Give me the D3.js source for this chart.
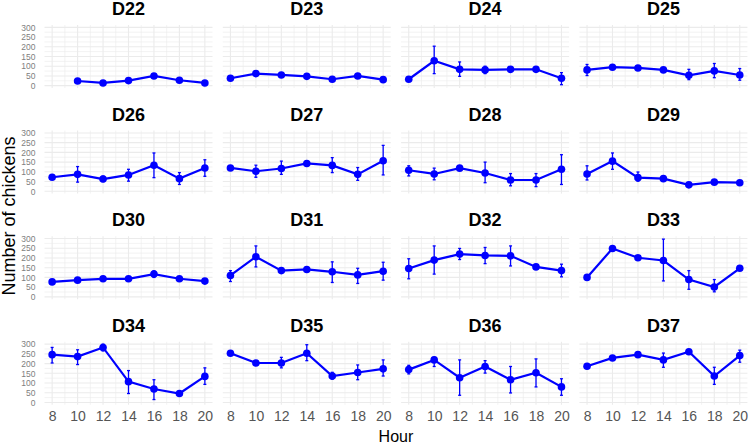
<!DOCTYPE html>
<html>
<head>
<meta charset="utf-8">
<script src="https://cdn.jsdelivr.net/npm/d3@7"></script>
<style>
  body { margin: 0; background: #fff; }
  svg { font-family: 'Liberation Sans', Arial, sans-serif; }
</style>
</head>
<body>
<div id="chart"></div>
<script>
const width = 750
const height = 445

// data
const hours = [8, 10, 12, 14, 16, 18, 20]
const days = ['D22', 'D23', 'D24', 'D25', 'D26', 'D27', 'D28', 'D29',
  'D30', 'D31', 'D32', 'D33', 'D34', 'D35', 'D36', 'D37']
const yTicks = [0, 50, 100, 150, 200, 250, 300]

const meanValues = [
  [null, 24, 14, 26, 50, 28, 14],
  [38, 62, 55, 48, 33, 50, 31],
  [33, 128, 84, 81, 84, 84, 38],
  [81, 95, 91, 81, 53, 76, 55],
  [72, 87, 63, 84, 134, 65, 120],
  [120, 103, 117, 143, 133, 87, 157],
  [108, 89, 119, 94, 58, 58, 113],
  [89, 155, 70, 65, 33, 47, 44],
  [77, 86, 93, 93, 117, 93, 81],
  [110, 206, 135, 141, 129, 113, 132],
  [146, 189, 220, 213, 211, 154, 135],
  [100, 249, 201, 187, 89, 51, 147],
  [246, 236, 283, 107, 69, 46, 134],
  [253, 203, 203, 253, 136, 154, 173],
  [169, 219, 127, 185, 117, 153, 80],
  [186, 229, 246, 219, 261, 136, 241]
]
const lowerValues = [
  [null, 24, 14, 26, 50, 28, 14],
  [38, 62, 55, 48, 33, 50, 22],
  [33, 62, 48, 62, 84, 84, 5],
  [52, 95, 91, 81, 31, 41, 28],
  [72, 47, 50, 52, 70, 35, 77],
  [120, 72, 87, 143, 96, 56, 84],
  [79, 59, 119, 44, 28, 24, 35],
  [58, 113, 52, 65, 33, 47, 44],
  [77, 86, 93, 93, 100, 93, 81],
  [79, 154, 135, 141, 74, 69, 86],
  [93, 117, 192, 171, 159, 154, 103],
  [100, 249, 190, 82, 39, 26, 147],
  [203, 195, 265, 46, 15, 46, 93],
  [253, 203, 178, 215, 120, 117, 136],
  [147, 185, 37, 151, 49, 80, 37],
  [186, 229, 246, 181, 261, 93, 207]
]
const upperValues = [
  [null, 24, 14, 26, 50, 28, 14],
  [38, 62, 55, 48, 33, 50, 42],
  [33, 203, 122, 100, 84, 84, 67],
  [109, 95, 91, 81, 84, 114, 88],
  [72, 127, 78, 113, 197, 96, 162],
  [120, 134, 155, 143, 173, 122, 236],
  [131, 119, 119, 150, 91, 91, 188],
  [131, 197, 99, 65, 33, 47, 44],
  [77, 86, 93, 93, 134, 93, 81],
  [135, 262, 135, 141, 180, 147, 178],
  [196, 262, 249, 254, 262, 154, 168],
  [100, 249, 212, 297, 135, 89, 147],
  [283, 271, 300, 164, 117, 46, 178],
  [253, 203, 232, 297, 155, 193, 219],
  [191, 232, 219, 215, 185, 224, 122],
  [186, 229, 246, 254, 261, 181, 269]
]

const blue = '#0000ff'
const gridColor = '#ebebeb'

// panel layout
const panel = { left: 44.5, top: 25, width: 168, height: 63, colStep: 178.3, rowStep: 105.6 }

const svg = d3.select('#chart').append('svg')
  .attr('width', width)
  .attr('height', height)

const xScale = d3.scaleLinear().domain([7.4, 20.6]).range([0, panel.width])
const yScale = d3.scaleLinear().domain([-12, 312]).range([panel.height, 0])

const line = d3.line()
  .defined((d) => d.mean != null)
  .x((d) => xScale(d.hour))
  .y((d) => yScale(d.mean))

days.forEach((day, i) => {
  const col = i % 4
  const row = Math.floor(i / 4)
  const g = svg.append('g')
    .attr('transform', `translate(${panel.left + col * panel.colStep},${panel.top + row * panel.rowStep})`)

  const pts = hours.map((h, j) => ({
    hour: h,
    mean: meanValues[i][j],
    lo: lowerValues[i][j],
    hi: upperValues[i][j]
  }))

  // grid: minor then major
  const xMinor = d3.range(9, 20, 2)
  const yMinor = d3.range(25, 300, 50)
  g.selectAll('.xminor').data(xMinor).join('line')
    .attr('x1', (d) => xScale(d)).attr('x2', (d) => xScale(d))
    .attr('y1', 0).attr('y2', panel.height)
    .attr('stroke', gridColor).attr('stroke-width', 0.6)
  g.selectAll('.yminor').data(yMinor).join('line')
    .attr('x1', 0).attr('x2', panel.width)
    .attr('y1', (d) => yScale(d)).attr('y2', (d) => yScale(d))
    .attr('stroke', gridColor).attr('stroke-width', 0.6)
  g.append('g').selectAll('line').data(hours).join('line')
    .attr('x1', (d) => xScale(d)).attr('x2', (d) => xScale(d))
    .attr('y1', 0).attr('y2', panel.height)
    .attr('stroke', gridColor).attr('stroke-width', 1.1)
  g.append('g').selectAll('line').data(yTicks).join('line')
    .attr('x1', 0).attr('x2', panel.width)
    .attr('y1', (d) => yScale(d)).attr('y2', (d) => yScale(d))
    .attr('stroke', gridColor).attr('stroke-width', 1.1)

  // title
  g.append('text')
    .attr('x', panel.width / 2)
    .attr('y', -10)
    .attr('text-anchor', 'middle')
    .attr('font-size', 18)
    .attr('font-weight', 'bold')
    .attr('fill', '#000')
    .text(day)

  // y axis labels on first column
  if (col === 0) {
    const yAxis = d3.axisLeft(yScale).tickValues(yTicks).tickSize(0).tickPadding(9)
    const ya = g.append('g').call(yAxis)
    ya.select('.domain').remove()
    ya.selectAll('text').attr('font-size', 8.5).attr('fill', '#808080')
      .attr('font-family', "'Liberation Sans', Arial, sans-serif")
  }
  // x axis labels on last row
  if (row === 3) {
    const xAxis = d3.axisBottom(xScale).tickValues(hours).tickSize(0).tickPadding(6)
    const xa = g.append('g').attr('transform', `translate(0,${panel.height})`).call(xAxis)
    xa.select('.domain').remove()
    xa.selectAll('text').attr('font-size', 14).attr('fill', '#555')
      .attr('font-family', "'Liberation Sans', Arial, sans-serif")
  }

  // error bars
  const eb = pts.filter((d) => d.mean != null && d.hi - d.lo > 0)
  g.selectAll('.eb').data(eb).join('line')
    .attr('x1', (d) => xScale(d.hour)).attr('x2', (d) => xScale(d.hour))
    .attr('y1', (d) => yScale(d.lo)).attr('y2', (d) => yScale(d.hi))
    .attr('stroke', blue).attr('stroke-width', 1.3)
  g.selectAll('.capHi').data(eb).join('line')
    .attr('x1', (d) => xScale(d.hour) - 1.5).attr('x2', (d) => xScale(d.hour) + 1.5)
    .attr('y1', (d) => yScale(d.hi)).attr('y2', (d) => yScale(d.hi))
    .attr('stroke', blue).attr('stroke-width', 1.3)
  g.selectAll('.capLo').data(eb).join('line')
    .attr('x1', (d) => xScale(d.hour) - 1.5).attr('x2', (d) => xScale(d.hour) + 1.5)
    .attr('y1', (d) => yScale(d.lo)).attr('y2', (d) => yScale(d.lo))
    .attr('stroke', blue).attr('stroke-width', 1.3)

  // line and points
  g.append('path').datum(pts)
    .attr('d', line)
    .attr('fill', 'none')
    .attr('stroke', blue)
    .attr('stroke-width', 2.2)
  g.selectAll('circle').data(pts.filter((d) => d.mean != null)).join('circle')
    .attr('cx', (d) => xScale(d.hour))
    .attr('cy', (d) => yScale(d.mean))
    .attr('r', 3.8)
    .attr('fill', blue)
})

// axis titles
svg.append('text')
  .attr('x', panel.left + (3 * panel.colStep + panel.width) / 2)
  .attr('y', 442)
  .attr('text-anchor', 'middle')
  .attr('font-size', 16)
  .attr('fill', '#000')
  .text('Hour')

svg.append('text')
  .attr('transform', 'translate(15,216) rotate(-90)')
  .attr('text-anchor', 'middle')
  .attr('font-size', 18)
  .attr('fill', '#000')
  .text('Number of chickens')
</script>
</body>
</html>
